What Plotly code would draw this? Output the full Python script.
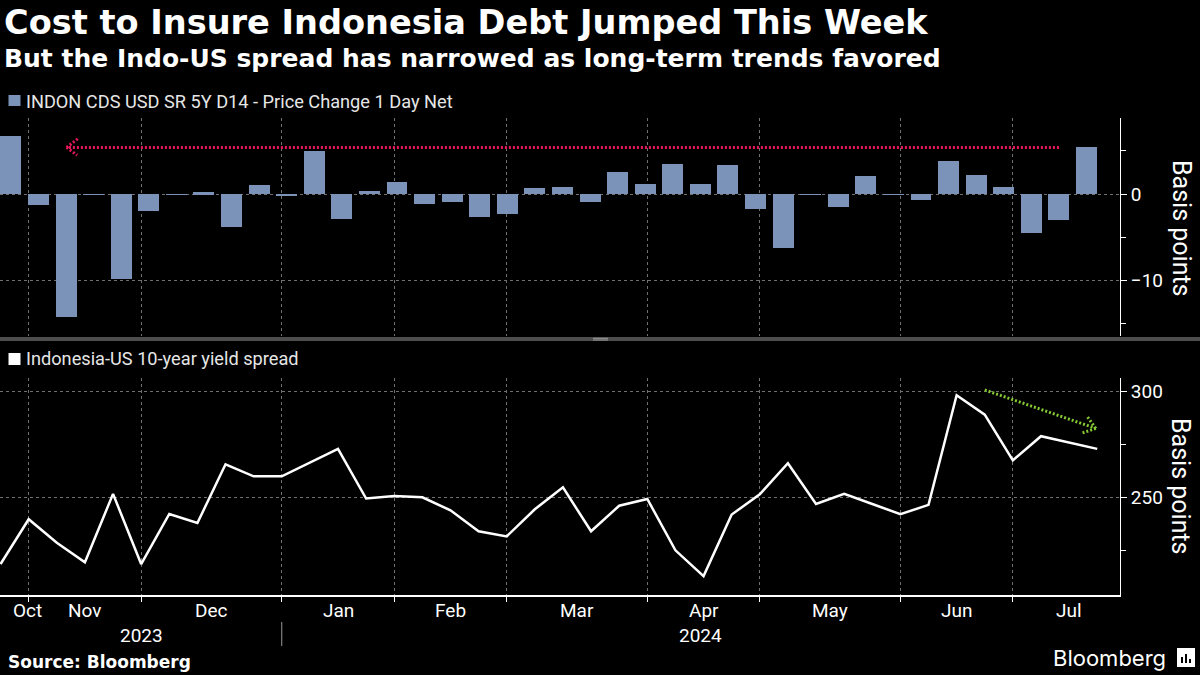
import plotly.graph_objects as go
import pandas as pd

# ---------------- data ----------------
weeks = pd.date_range("2023-10-27", "2024-07-26", freq="7D")  # weekly (Fridays)

cds_change = [6.7, -1.3, -14.2, -0.1, -9.8, -2.0, -0.1, 0.2, -3.8, 1.0,
              -0.2, 5.0, -2.9, 0.35, 1.4, -1.15, -0.9, -2.65, -2.3, 0.7,
              0.8, -0.9, 2.55, 1.15, 3.45, 1.15, 3.35, -1.7, -6.2, -0.1,
              -1.45, 2.1, -0.1, -0.65, 3.8, 2.2, 0.8, -4.5, -3.0, 5.4]

spread = [218.4, 239.6, 228.5, 219.2, 251.6, 218.4, 242.1, 237.8, 265.6, 259.9,
          259.9, 266.4, 272.9, 249.4, 250.6, 250.0, 243.8, 233.9, 231.5, 244.3,
          254.7, 233.9, 246.0, 249.2, 224.9, 212.7, 241.8, 251.4, 266.1, 246.8,
          251.6, 246.8, 242.0, 246.4, 298.3, 289.1, 267.5, 278.9, 276.0, 272.9]

month_labels = ["Oct", "Nov", "Dec", "Jan", "Feb", "Mar", "Apr", "May", "Jun", "Jul"]
month_label_pos = [0.97, 3, 7.5, 12, 16, 20.5, 25, 29.5, 34, 38]
year_labels = ["2023", "2024"]
year_label_pos = [5, 24.9]
year_divider_pos = 10

cds_name = "INDON CDS USD SR 5Y D14 - Price Change 1 Day Net"
spread_name = "Indonesia-US 10-year yield spread"

# ---------------- style ----------------
W, H = 1200, 675
BG = "#000000"
BAR_COLOR = "#7b93b8"
GRID = "#707070"
RED = "#e8185c"
GREEN = "#86c934"
FONT = "Roboto"
TITLE_FONT = "DejaVu Sans"

TOP_X_RANGE = [-0.395, 40.215]
BOT_X_RANGE = [-0.02, 39.81]
PLOT_RIGHT = 1120 / W


def py(px):
    return 1 - px / H


idx = list(range(len(weeks)))
month_starts = [i for i in range(1, len(weeks)) if weeks[i].month != weeks[i - 1].month]
# map month-start gridlines to the bar panel's axis units
scale = (TOP_X_RANGE[1] - TOP_X_RANGE[0]) / (BOT_X_RANGE[1] - BOT_X_RANGE[0])
top_grid = [TOP_X_RANGE[0] + (m - BOT_X_RANGE[0]) * scale for m in month_starts]

fig = go.Figure()
fig.add_trace(go.Bar(x=idx, y=cds_change, width=0.76, marker=dict(color=BAR_COLOR, line=dict(width=0)),
                     name=cds_name, xaxis="x", yaxis="y", showlegend=False))
fig.add_trace(go.Scatter(x=idx, y=spread, mode="lines", line=dict(color="white", width=2.5),
                         name=spread_name, xaxis="x2", yaxis="y2", showlegend=False))

axis_font = dict(family=FONT, size=19, color="white")
fig.update_layout(
    width=W, height=H, autosize=False,
    margin=dict(l=0, r=0, t=0, b=0),
    paper_bgcolor=BG, plot_bgcolor=BG,
    bargap=0,
    xaxis=dict(domain=[0, PLOT_RIGHT], range=TOP_X_RANGE, anchor="y",
               tickmode="array", tickvals=top_grid, showticklabels=False, ticks="",
               showgrid=True, gridcolor=GRID, griddash="3px,3px", gridwidth=1,
               zeroline=False, showline=False, fixedrange=True),
    yaxis=dict(domain=[py(336), py(118)], range=[-16.4, 8.8], anchor="x", side="right",
               tick0=0, dtick=10, ticks="outside", ticklen=6, tickcolor="white",
               showline=True, linecolor="white", linewidth=1,
               showgrid=True, gridcolor=GRID, griddash="3px,3px", gridwidth=1,
               zeroline=False, tickfont=axis_font,
               minor=dict(tick0=0, dtick=5, ticks="outside", ticklen=5, tickcolor="white", showgrid=False)),
    xaxis2=dict(domain=[0, PLOT_RIGHT], range=BOT_X_RANGE, anchor="y2",
                tickmode="array", tickvals=month_starts, ticktext=[""] * len(month_starts),
                ticks="outside", ticklen=5, tickcolor="white",
                showline=True, linecolor="white", linewidth=1.5,
                showgrid=True, gridcolor=GRID, griddash="3px,3px", gridwidth=1,
                zeroline=False),
    yaxis2=dict(domain=[py(595.3), py(377.7)], range=[203.6, 306.6], anchor="x2", side="right",
                tick0=0, dtick=50, ticks="outside", ticklen=6, tickcolor="white",
                showline=True, linecolor="white", linewidth=1,
                showgrid=True, gridcolor=GRID, griddash="3px,3px", gridwidth=1,
                zeroline=False, tickfont=axis_font,
                minor=dict(tick0=0, dtick=25, ticks="outside", ticklen=5, tickcolor="white", showgrid=False)),
)

ann = []
# titles
ann.append(dict(text="<b>Cost to Insure Indonesia Debt Jumped This Week</b>", xref="paper", yref="paper",
                x=2 / W, y=py(23), xanchor="left", yanchor="middle", showarrow=False,
                font=dict(family=TITLE_FONT, size=33.6, color="white")))
ann.append(dict(text="<b>But the Indo-US spread has narrowed as long-term trends favored</b>", xref="paper",
                yref="paper", x=2 / W, y=py(58), xanchor="left", yanchor="middle", showarrow=False,
                font=dict(family=TITLE_FONT, size=25, color="white")))
# legends
ann.append(dict(text=cds_name, xref="paper", yref="paper", x=24 / W, y=py(101), xanchor="left",
                yanchor="middle", showarrow=False, font=dict(family=FONT, size=18.2, color="#e6e6e6")))
ann.append(dict(text=spread_name, xref="paper", yref="paper", x=24 / W, y=py(359), xanchor="left",
                yanchor="middle", showarrow=False, font=dict(family=FONT, size=18.2, color="#e6e6e6")))
# axis titles
for yc in (228, 486):
    ann.append(dict(text="Basis points", xref="paper", yref="paper", x=1181 / W, y=py(yc),
                    xanchor="center", yanchor="middle", textangle=90, showarrow=False,
                    font=dict(family=FONT, size=25, color="white")))
# month + year labels
for lab, pos in zip(month_labels, month_label_pos):
    ann.append(dict(text=lab, xref="x2", yref="paper", x=pos, y=py(610), xanchor="center",
                    yanchor="middle", showarrow=False, font=dict(family=FONT, size=19, color="white")))
for lab, pos in zip(year_labels, year_label_pos):
    ann.append(dict(text=lab, xref="x2", yref="paper", x=pos, y=py(635), xanchor="center",
                    yanchor="middle", showarrow=False, font=dict(family=FONT, size=19, color="white")))
# footer
ann.append(dict(text="<b>Source: Bloomberg</b>", xref="paper", yref="paper", x=6 / W, y=py(662),
                xanchor="left", yanchor="middle", showarrow=False,
                font=dict(family=TITLE_FONT, size=17, color="white")))
ann.append(dict(text="Bloomberg", xref="paper", yref="paper", x=1168 / W, y=py(658),
                xanchor="right", yanchor="middle", showarrow=False,
                font=dict(family="Inter", size=22, color="white")))
fig.update_layout(annotations=ann)

shapes = []
# legend swatches
shapes.append(dict(type="rect", xref="paper", yref="paper", x0=8.5 / W, x1=20.5 / W, y0=py(106), y1=py(95),
                   fillcolor=BAR_COLOR, line=dict(width=0)))
shapes.append(dict(type="rect", xref="paper", yref="paper", x0=8.5 / W, x1=20.5 / W, y0=py(365), y1=py(353),
                   fillcolor="white", line=dict(width=0)))
# panel separator
shapes.append(dict(type="rect", xref="paper", yref="paper", x0=0, x1=1, y0=py(341), y1=py(337),
                   fillcolor="#4d4d4d", line=dict(width=0)))
for yy in (338.3, 340):
    shapes.append(dict(type="line", xref="paper", yref="paper", x0=593 / W, x1=608 / W, y0=py(yy), y1=py(yy),
                       line=dict(color="#9a9a9a", width=1)))
# year divider
shapes.append(dict(type="line", xref="x2", yref="paper", x0=year_divider_pos, x1=year_divider_pos,
                   y0=py(622), y1=py(646), line=dict(color="#9a9a9a", width=1)))
# red arrow (pointing left) at the latest CDS move level
red_y = cds_change[-1]
red_tip_x, red_tail_x = 2.02, 38.0
shapes.append(dict(type="line", xref="x", yref="y", x0=red_tail_x, x1=red_tip_x, y0=red_y, y1=red_y,
                   line=dict(color=RED, width=3, dash="2px,2px")))
for ax_, ay_ in ((2.43, red_y + 1.0), (2.40, red_y - 0.9)):
    shapes.append(dict(type="line", xref="x", yref="y", x0=red_tip_x, y0=red_y, x1=ax_, y1=ay_,
                       line=dict(color=RED, width=3, dash="2px,2px")))
# green arrow (pointing down-right)
g_tail = (35.0, 300.8)
g_tip = (38.95, 282.6)
shapes.append(dict(type="line", xref="x2", yref="y2", x0=g_tail[0], y0=g_tail[1], x1=g_tip[0], y1=g_tip[1],
                   line=dict(color=GREEN, width=3, dash="2px,2px")))
for ax_, ay_ in ((38.63, 288.5), (38.46, 280.4)):
    shapes.append(dict(type="line", xref="x2", yref="y2", x0=g_tip[0], y0=g_tip[1], x1=ax_, y1=ay_,
                       line=dict(color=GREEN, width=3, dash="2px,2px")))
# Bloomberg icon
shapes.append(dict(type="rect", xref="paper", yref="paper", x0=1177 / W, x1=1195 / W, y0=py(667), y1=py(648),
                   fillcolor="white", line=dict(width=0)))
for bx, top in ((1181, 657), (1185, 654), (1189, 659)):
    shapes.append(dict(type="rect", xref="paper", yref="paper", x0=bx / W, x1=(bx + 2) / W,
                       y0=py(663), y1=py(top), fillcolor="black", line=dict(width=0)))
fig.update_layout(shapes=shapes)

fig.write_html("out.html", config={"displayModeBar": False},
               post_script="document.body.style.margin='0';document.body.style.background='black';")
